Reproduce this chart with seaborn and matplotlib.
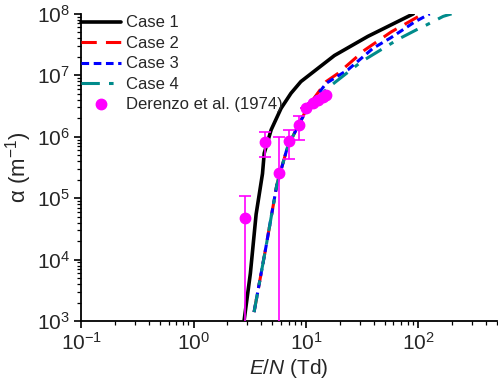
import numpy as np
import pandas as pd
import matplotlib
matplotlib.use("Agg")
import matplotlib.pyplot as plt
import seaborn as sns
from matplotlib.lines import Line2D
from matplotlib.ticker import LogLocator, LogFormatterMathtext, NullFormatter

# ---- data ----
case1_x = [2.81, 3.2, 3.6, 4.1, 4.25, 4.9, 6.0, 7.35, 9.0, 17.9, 35.5, 90]
case1_y = [1e3, 6e3, 5.5e4, 2.5e5, 5.4e5, 1.3e6, 2.9e6, 5.1e6, 7.9e6, 2.1e7, 4.3e7, 1e8]

case2_x = [3.45, 4.4, 5.5, 6.86, 8.43, 10.4, 15.1, 19.2, 33.2, 57.4, 110]
case2_y = [1.4e3, 1.6e4, 1.65e5, 6.9e5, 1.45e6, 3.1e6, 7.9e6, 1.07e7, 2.57e7, 5.1e7, 1e8]

case3_x = [3.45, 4.4, 5.5, 6.86, 8.43, 10.4, 15.1, 23.6, 39.4, 57, 92.7, 126]
case3_y = [1.4e3, 1.6e4, 1.65e5, 6.9e5, 1.45e6, 3.0e6, 7.4e6, 1.23e7, 2.75e7, 4.1e7, 7.4e7, 1e8]

case4_x = [3.45, 4.4, 5.5, 6.86, 8.43, 10.4, 15.6, 31, 66.7, 96, 118, 166, 197]
case4_y = [1.4e3, 1.6e4, 1.65e5, 6.9e5, 1.45e6, 2.9e6, 6.2e6, 1.66e7, 3.9e7, 5.5e7, 6.6e7, 9.1e7, 1e8]

exp_x = [2.87, 4.33, 5.7, 7.1, 8.6, 10.0, 11.5, 12.7, 14.1, 15.1]
exp_y = [4.7e4, 8.3e5, 2.6e5, 8.5e5, 1.55e6, 2.9e6, 3.5e6, 3.9e6, 4.5e6, 4.8e6]
exp_err = [6e4, 3.7e5, 7.2e5, 4.2e5, 6.5e5, 0, 0, 0, 0, 0]

labels = ["Case 1", "Case 2", "Case 3", "Case 4"]
exp_label = "Derenzo et al. (1974)"

# ---- style ----
sns.set_style("ticks")
plt.rcParams['font.family'] = ['Liberation Sans', 'DejaVu Sans']
plt.rcParams['mathtext.fontset'] = 'custom'
plt.rcParams['mathtext.rm'] = 'Liberation Sans'
plt.rcParams['mathtext.it'] = 'Liberation Sans:italic'
plt.rcParams['mathtext.bf'] = 'Liberation Sans:bold'

fig = plt.figure(figsize=(4.98, 3.85), dpi=100)
ax = fig.add_axes([0.163, 0.166, 0.835, 0.798])

frames = []
for lab, xs, ys in zip(labels, [case1_x, case2_x, case3_x, case4_x],
                       [case1_y, case2_y, case3_y, case4_y]):
    frames.append(pd.DataFrame({"x": xs, "y": ys, "case": lab}))
df = pd.concat(frames, ignore_index=True)

styles = {
    "Case 1": dict(color="black", ls="-", lw=2.6),
    "Case 2": dict(color="#ff0000", ls=(0, (5, 3)), lw=2.2),
    "Case 3": dict(color="#0000ff", ls=(0, (2.5, 1.5)), lw=2.2),
    "Case 4": dict(color="#008b8b", ls=(0, (6, 3, 1.5, 3)), lw=2.2),
}
handles = []
for lab in labels:
    sub = df[df["case"] == lab]
    st = styles[lab]
    sns.lineplot(data=sub, x="x", y="y", ax=ax, sort=False, estimator=None,
                 color=st["color"], linestyle=st["ls"], linewidth=st["lw"],
                 legend=False)
    handles.append(Line2D([], [], color=st["color"], linestyle=st["ls"],
                          linewidth=st["lw"], label=lab))

ax.errorbar(exp_x, exp_y, yerr=exp_err, fmt="o", color="#ff00ff",
            markersize=7.5, elinewidth=1.2, capsize=4, capthick=1.2, zorder=5)
handles.append(Line2D([], [], color="#ff00ff", marker="o", linestyle="none",
                      markersize=7.5, label=exp_label))

ax.set_xscale("log")
ax.set_yscale("log")
ax.set_xlim(0.1, 500)
ax.set_ylim(1e3, 1e8)

ax.xaxis.set_major_locator(LogLocator(base=10, numticks=10))
ax.xaxis.set_major_formatter(LogFormatterMathtext())
ax.xaxis.set_minor_locator(LogLocator(base=10, subs=np.arange(2, 10), numticks=20))
ax.xaxis.set_minor_formatter(NullFormatter())
ax.yaxis.set_major_locator(LogLocator(base=10, numticks=10))
ax.yaxis.set_major_formatter(LogFormatterMathtext())
ax.yaxis.set_minor_locator(LogLocator(base=10, subs=np.arange(2, 10), numticks=20))
ax.yaxis.set_minor_formatter(NullFormatter())

ax.tick_params(which="major", direction="out", length=5, width=1.2, labelsize=15, color="black", pad=3)
ax.tick_params(which="minor", direction="out", length=3, width=0.9, color="black")
for s in ["left", "bottom"]:
    ax.spines[s].set_linewidth(1.3)
    ax.spines[s].set_color("black")
sns.despine(ax=ax)

ax.set_xlabel(r"$E/N$ (Td)", fontsize=15, labelpad=2)
ax.set_ylabel(r"$\mathrm{\alpha}$ (m$^{-1}$)", fontsize=16, labelpad=2)

ax.legend(handles=handles, loc="upper left", bbox_to_anchor=(0.0, 0.995),
          frameon=False, fontsize=12, handlelength=2.4, handletextpad=0.3,
          labelspacing=0.33, borderaxespad=0.0, borderpad=0.0)

fig.savefig("out.png", dpi=100)
